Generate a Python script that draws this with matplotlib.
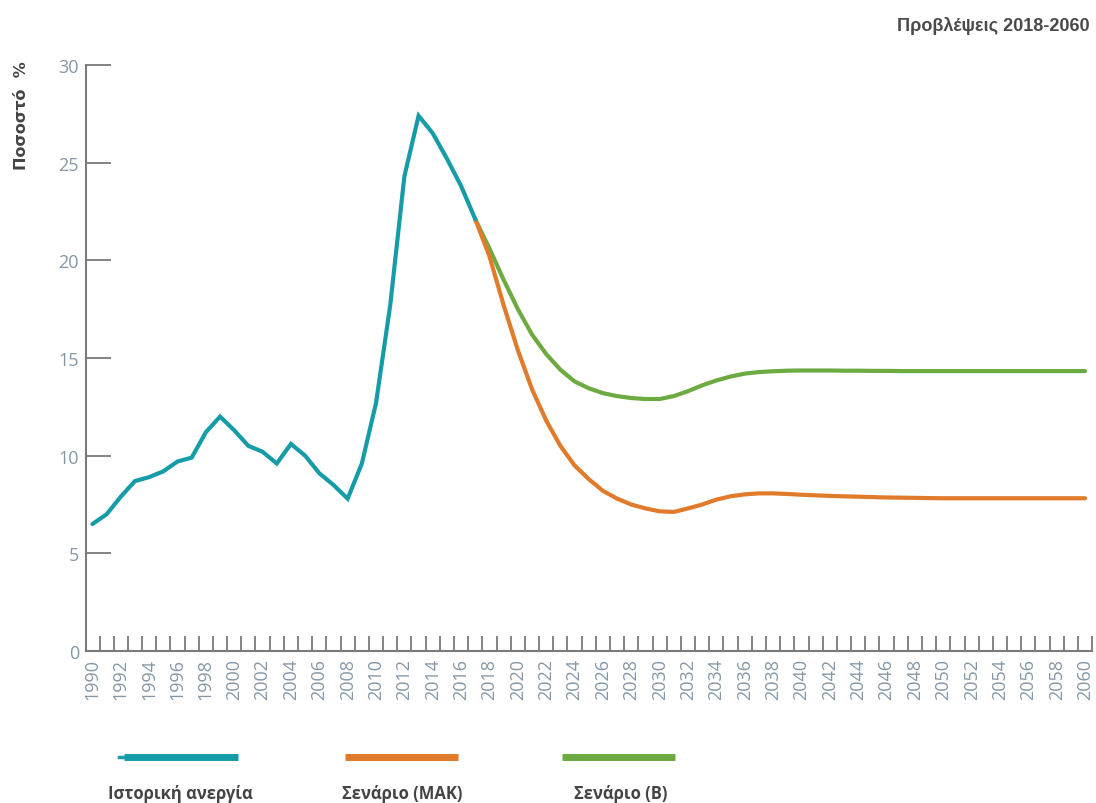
import numpy as np
import matplotlib.pyplot as plt
from matplotlib.lines import Line2D
from matplotlib.ticker import FixedLocator

# historic unemployment (%)
hist_years = list(range(1990, 2018))
hist_vals = [6.5, 7.0, 7.9, 8.7, 8.9, 9.2, 9.7, 9.9, 11.2, 12.0,
             11.3, 10.5, 10.2, 9.6, 10.6, 10.0, 9.1, 8.5, 7.8, 9.6,
             12.7, 17.7, 24.3, 27.4, 26.5, 25.2, 23.8, 22.1]

# projections 2017-2060
proj_years = list(range(2017, 2061))
mak_vals = [22.1, 20.2, 17.7, 15.4, 13.4, 11.8, 10.5, 9.5, 8.8, 8.2,
            7.8, 7.5, 7.3, 7.15, 7.12, 7.3, 7.5, 7.75, 7.92, 8.02,
            8.07, 8.07, 8.04, 8.0, 7.97, 7.94, 7.92, 7.9, 7.88, 7.86,
            7.85, 7.84, 7.83, 7.82, 7.82, 7.82, 7.82, 7.82, 7.82, 7.82,
            7.82, 7.82, 7.82, 7.82]
b_vals = [22.1, 20.6, 19.0, 17.5, 16.2, 15.2, 14.4, 13.8, 13.45, 13.2,
          13.05, 12.95, 12.9, 12.9, 13.05, 13.3, 13.6, 13.85, 14.05, 14.2,
          14.28, 14.32, 14.35, 14.36, 14.36, 14.36, 14.35, 14.35, 14.34, 14.34,
          14.33, 14.33, 14.33, 14.33, 14.33, 14.33, 14.33, 14.33, 14.33, 14.33,
          14.33, 14.33, 14.33, 14.33]

labels = ["Ιστορική ανεργία", "Σενάριο (ΜΑΚ)", "Σενάριο (Β)"]
colors = ["#169ca7", "#e07b2b", "#6dab42"]

plt.rcParams['font.family'] = ['Open Sans', 'DejaVu Sans']

fig = plt.figure(figsize=(10.96, 8.04), dpi=100)
ax = fig.add_axes([0.0785, 0.189, 0.918, 0.729])

ax.plot(proj_years, b_vals, color=colors[2], lw=3, solid_capstyle='round', zorder=3)
ax.plot(proj_years, mak_vals, color=colors[1], lw=3, solid_capstyle='round', zorder=3)
ax.plot(hist_years, hist_vals, color=colors[0], lw=3, solid_capstyle='round',
        solid_joinstyle='miter', zorder=4)

ax.set_xlim(1989.55, 2060.5)
ax.set_ylim(0, 30)

axis_col = "#7a7a7a"
label_col = "#8597a6"
for s in ['top', 'right']:
    ax.spines[s].set_visible(False)
for s in ['left', 'bottom']:
    ax.spines[s].set_color(axis_col)
    ax.spines[s].set_linewidth(1.5)

ax.set_yticks(range(0, 31, 5))
ax.tick_params(axis='y', direction='in', length=18, width=1.3, color=axis_col,
               labelsize=13, labelcolor=label_col, pad=5)

ax.set_xticks(range(1990, 2061, 2))
ax.set_xticklabels([str(y) for y in range(1990, 2061, 2)], rotation=90)
ax.xaxis.set_minor_locator(FixedLocator(np.arange(1990.5, 2060.6, 1)))
ax.tick_params(axis='x', which='major', length=0, labelsize=13,
               labelcolor=label_col, pad=5)
ax.tick_params(axis='x', which='minor', direction='in', length=11, width=1.3,
               color=axis_col)

fig.text(0.02, 0.856, "Ποσοστό  %", rotation=90, ha='center', va='center',
         fontsize=11.5, fontweight='bold', color="#444444", family='DejaVu Sans')
fig.text(0.994, 0.968, "Προβλέψεις 2018-2060", ha='right', va='center',
         fontsize=13, fontweight='bold', color="#4a4a4a", family='Liberation Sans')

# legend beneath the chart
leg_x = [(0.113, 0.217), (0.315, 0.418), (0.513, 0.616)]
leg_c = [0.165, 0.367, 0.566]
for (x0, x1), xc, lab, col in zip(leg_x, leg_c, labels, colors):
    fig.add_artist(Line2D([x0, x1], [0.057, 0.057], color=col, lw=5,
                          solid_capstyle='butt', transform=fig.transFigure))
    fig.text(xc, 0.013, lab, ha='center', va='center', fontsize=12,
             fontweight='bold', color="#444444")
fig.add_artist(Line2D([0.109, 0.115], [0.057, 0.057], color=colors[0], lw=2.5,
                      transform=fig.transFigure))

fig.savefig("out.png", dpi=100, facecolor='white')
